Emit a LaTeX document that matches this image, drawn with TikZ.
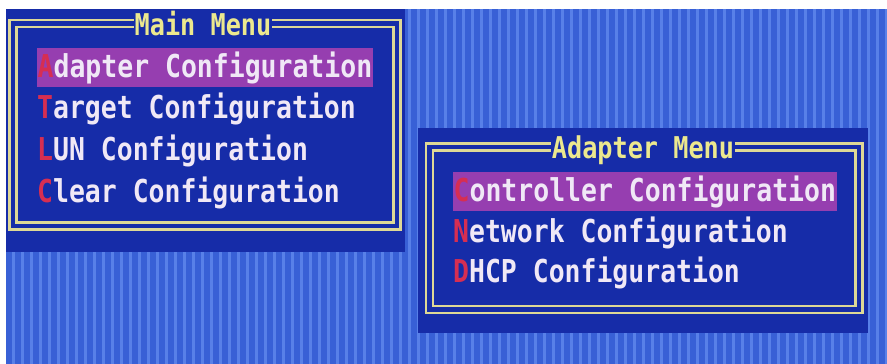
\documentclass[tikz,border=0pt]{standalone}
\usepackage{fontspec}
\usepackage{xcolor}
\usepackage{tikz}
\usetikzlibrary{positioning}
\newfontfamily\biosfont[FakeStretch=0.84]{DejaVu Sans Mono}

\begin{document}
\begin{tikzpicture}[x=1pt, y=-1pt]
	\definecolor{screenblue}{RGB}{56,96,214}
	\definecolor{stripeblue}{RGB}{88,128,232}
	\definecolor{winblue}{RGB}{22,44,168}
	\definecolor{framegold}{RGB}{222,216,150}
	\definecolor{barpurple}{RGB}{150,62,176}
	\definecolor{itemwhite}{RGB}{240,232,246}
	\definecolor{hotred}{RGB}{214,46,82}
	\definecolor{titleyellow}{RGB}{236,232,142}
	\tikzset{
		winframe/.style={
			draw=framegold,
			line width=2.5pt,
			double=winblue,
			double distance=4.5pt
		},
		menuitem/.style={
			anchor=base west,
			inner sep=0pt,
			text=itemwhite,
			font=\biosfont\bfseries\fontsize{31.5}{36}\selectfont
		},
		menuhot/.style={
			menuitem,
			fill=barpurple,
			text height=29pt,
			text depth=10pt,
			inner xsep=0.5pt
		},
		menutitle/.style={
			anchor=base,
			inner xsep=1pt,
			inner ysep=0pt,
			text height=24pt,
			text depth=0pt,
			fill=winblue,
			text=titleyellow,
			font=\biosfont\bfseries\fontsize{30}{36}\selectfont
		},
		stripe/.style={draw=stripeblue, line width=3pt}
	}
	\useasboundingbox (0,0) rectangle (887,364);
	\fill[screenblue] (0,0) rectangle (887,364);
	\foreach \x in {4,13,...,887}
		\draw[stripe] (\x,9) -- (\x,364);
	\fill[white] (0,0) rectangle (887,9);
	\fill[white] (0,0) rectangle (6,364);

	\fill[winblue] (6,9) rectangle (405,252);
	\draw[winframe] (13,23.5) rectangle (397,226);
	\node[menutitle] (maintitle) at (203,35) {Main Menu};
	\node[menuhot] (mainA) at (37,77) {{\color{hotred}A}dapter Configuration};
	\node[menuitem] (mainT) at (37,118) {{\color{hotred}T}arget Configuration};
	\node[menuitem] (mainL) at (37,160) {{\color{hotred}L}UN Configuration};
	\node[menuitem] (mainC) at (37,202) {{\color{hotred}C}lear Configuration};

	\fill[winblue] (418,128) rectangle (868,333);
	\draw[winframe] (429.5,147) rectangle (859,309.5);
	\node[menutitle] (adptitle) at (643,158) {Adapter Menu};
	\node[menuhot] (adpC) at (453,201) {{\color{hotred}C}ontroller Configuration};
	\node[menuitem] (adpN) at (453,242) {{\color{hotred}N}etwork Configuration};
	\node[menuitem] (adpD) at (453,282) {{\color{hotred}D}HCP Configuration};
\end{tikzpicture}
\end{document}
